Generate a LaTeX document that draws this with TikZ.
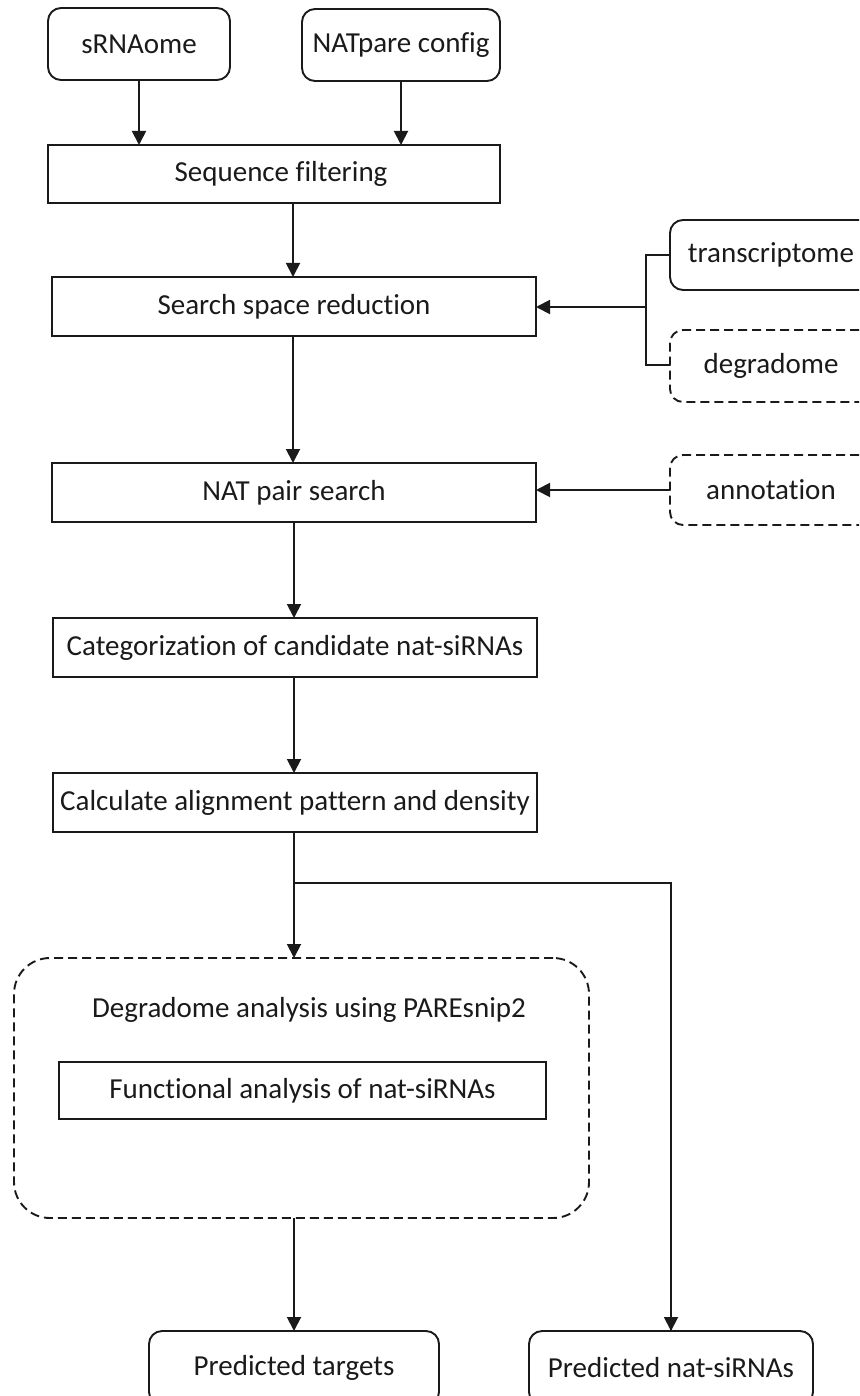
\documentclass[tikz,border=0pt]{standalone}
\usepackage{fontspec}
\setmainfont{Carlito}[Ligatures={NoCommon}]
\usetikzlibrary{arrows.meta}
\definecolor{ink}{HTML}{1A1A1A}
\begin{document}
\begin{tikzpicture}[x=1pt,y=-1pt,
  every node/.style={inner sep=0pt,outer sep=0pt,font=\fontsize{29}{33}\selectfont,text=ink},
  sqbox/.style={draw=ink,line width=1.9pt,rectangle,anchor=north west},
  rbox/.style={draw=ink,line width=1.9pt,rectangle,rounded corners=13pt,anchor=north west},
  dbox/.style={rbox,dash pattern=on 9pt off 5pt},
  arr/.style={draw=ink,line width=1.9pt,-{Triangle[length=14pt,width=14pt]}},
  thin/.style={draw=ink,line width=1.1pt}
]
\useasboundingbox (0,0) rectangle (859,1396);
\clip (0,0) rectangle (859,1396);

% top inputs
\node[rbox,minimum width=182pt,minimum height=72pt] (srna) at (48,8) {sRNAome};
\node[rbox,minimum width=198pt,minimum height=72pt] (natcfg) at (302,9) {NATpare config};
\node[sqbox,minimum width=452pt,minimum height=58pt] (seqf) at (48,145) {\hspace*{14pt}Sequence filtering};

% main column
\node[sqbox,minimum width=484pt,minimum height=59pt] (ssr) at (52,277) {Search space reduction};
\node[sqbox,minimum width=484pt,minimum height=59pt] (nps) at (52,463) {NAT pair search};
\node[sqbox,minimum width=484pt,minimum height=59pt] (cat) at (53,618) {Categorization of candidate nat-siRNAs};
\node[sqbox,minimum width=484pt,minimum height=59pt] (calc) at (53,773) {Calculate alignment pattern and density};

% right inputs
\node[rbox,minimum width=202pt,minimum height=70pt] (trans) at (670,220) {transcriptome};
\node[dbox,minimum width=202pt,minimum height=72pt] (degr) at (670,330) {degradome};
\node[dbox,minimum width=202pt,minimum height=70pt] (annot) at (670,455) {annotation};

% degradome analysis container
\node[rbox,dash pattern=on 9pt off 5pt,rounded corners=36pt,minimum width=575pt,minimum height=260pt] (degbox) at (14,958) {};
\node (degtxt) at (309,1010) {Degradome analysis using PAREsnip2};
\node[sqbox,minimum width=487pt,minimum height=57pt] (func) at (59,1062) {Functional analysis of nat-siRNAs};

% outputs
\node[rbox,minimum width=290pt,minimum height=74pt] (ptarg) at (149,1331) {Predicted targets};
\node[rbox,minimum width=284pt,minimum height=74pt] (pnat) at (529,1331) {Predicted nat-siRNAs};

% connectors
\draw[arr] (srna.south) -- (srna.south |- seqf.north);
\draw[arr] (natcfg.south) -- (natcfg.south |- seqf.north);
\coordinate (c1) at (293,203);
\draw[arr] (c1) -- (c1 |- ssr.north);
\coordinate (c2) at (293,336);
\draw[arr] (c2) -- (c2 |- nps.north);
\coordinate (c3) at (294,522);
\draw[arr] (c3) -- (c3 |- cat.north);
\coordinate (c4) at (294,677);
\draw[arr] (c4) -- (c4 |- calc.north);
\coordinate (c5) at (294,832);
\draw[arr] (c5) -- (c5 |- degbox.north);
\coordinate (br) at (294,883);
\draw[thin] (br) -| (pnat.north);
\draw[arr] (pnat.north |- br) -- (pnat.north);
\coordinate (c6) at (294,1218);
\draw[arr] (c6) -- (c6 |- ptarg.north);

% bracket from transcriptome / degradome
\coordinate (bk) at (646,307);
\draw[thin] (trans.west |- 0,255) -- (646,255) -- (646,365) -- (degr.west |- 0,365);
\draw[arr] (bk) -- (bk -| ssr.east);
\draw[arr] (annot.west) -- (annot.west -| nps.east);
\end{tikzpicture}
\end{document}
